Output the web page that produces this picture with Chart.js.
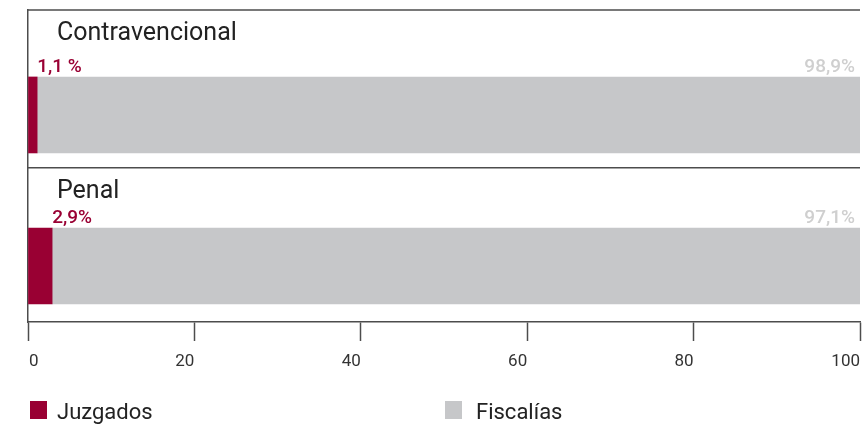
<!DOCTYPE html>
<html>
<head>
<meta charset="utf-8">
<script src="https://cdn.jsdelivr.net/npm/chart.js@4.4.1/dist/chart.umd.min.js"></script>
<style>
  html, body { margin: 0; padding: 0; background: #fff; }
  #wrap { width: 864px; height: 428px; }
</style>
</head>
<body>
<div id="wrap"><canvas id="myChart" width="864" height="428"></canvas></div>
<script>
// datos
var categories = ['Contravencional', 'Penal'];
var juzgados = [1.1, 2.9];
var fiscalias = [98.9, 97.1];
var juzgadosText = ['1,1 %', '2,9%'];
var fiscaliasText = ['98,9%', '97,1%'];
var xTicks = [0, 20, 40, 60, 80, 100];
var seriesNames = ['Juzgados', 'Fiscalías'];

var RED = '#990033';
var GRAY = '#c6c7c9';
var LINE = '#4d4d4d';
var FONT = 'Roboto, "Liberation Sans", sans-serif';

var overlay = {
  id: 'overlay',
  afterDraw: function (chart) {
    var ctx = chart.ctx;
    var area = chart.chartArea;
    var xs = chart.scales.x;
    var ys = chart.scales.y;
    var sep = ys.getPixelForValue(0.35);

    ctx.save();
    // top and separator lines
    ctx.strokeStyle = LINE;
    ctx.lineWidth = 1.5;
    ctx.beginPath();
    ctx.moveTo(area.left, area.top);
    ctx.lineTo(area.right, area.top);
    ctx.moveTo(area.left, sep);
    ctx.lineTo(area.right, sep);
    ctx.stroke();

    // category titles + value labels
    var bandTops = [area.top, sep];
    var meta0 = chart.getDatasetMeta(0);
    var meta1 = chart.getDatasetMeta(1);
    categories.forEach(function (cat, i) {
      ctx.fillStyle = '#222';
      ctx.font = '25px ' + FONT;
      ctx.textAlign = 'left';
      ctx.textBaseline = 'alphabetic';
      ctx.fillText(cat, 57, bandTops[i] + 30);

      var bar = meta0.data[i];
      var barTop = bar.y - bar.height / 2;
      ctx.font = '500 19px ' + FONT;
      ctx.fillStyle = RED;
      ctx.fillText(juzgadosText[i], xs.getPixelForValue(juzgados[i]), barTop - 5);

      var bar2 = meta1.data[i];
      ctx.fillStyle = '#cfcfcf';
      ctx.textAlign = 'right';
      ctx.fillText(fiscaliasText[i], bar2.x - 5, barTop - 5);
    });

    // x tick labels
    ctx.font = '17px ' + FONT;
    ctx.fillStyle = '#333';
    ctx.textBaseline = 'middle';
    xTicks.forEach(function (t, i) {
      var px = xs.getPixelForValue(t);
      ctx.textAlign = i === 0 ? 'left' : 'right';
      ctx.fillText(String(t), i === 0 ? px + 1 : px, 362);
    });

    // legend
    var legX = [30, 445];
    ctx.font = '22px ' + FONT;
    ctx.textBaseline = 'alphabetic';
    ctx.textAlign = 'left';
    chart.data.datasets.forEach(function (ds, i) {
      ctx.fillStyle = ds.backgroundColor;
      ctx.fillRect(legX[i], 401, 17, 18);
      ctx.fillStyle = '#222';
      ctx.fillText(ds.label, legX[i] + 27 + i * 4, 419);
    });
    ctx.restore();
  }
};

var ctx = document.getElementById('myChart');

var myChart = new Chart(ctx, {
  type: 'bar',
  data: {
    datasets: [
      {
        label: seriesNames[0],
        backgroundColor: RED,
        data: juzgados.map(function (v, i) { return { x: v, y: i }; }),
        barThickness: 76
      },
      {
        label: seriesNames[1],
        backgroundColor: GRAY,
        data: fiscalias.map(function (v, i) { return { x: v, y: i }; }),
        barThickness: 76
      }
    ]
  },
  options: {
    indexAxis: 'y',
    responsive: false,
    animation: false,
    layout: { padding: { left: 28, right: 4, top: 10, bottom: 0 } },
    plugins: {
      legend: { display: false },
      tooltip: { enabled: false }
    },
    scales: {
      x: {
        type: 'linear',
        stacked: true,
        min: 0,
        max: 100,
        offset: false,
        afterBuildTicks: function (s) { s.ticks = xTicks.map(function (v) { return { value: v }; }); },
        afterFit: function (s) { s.height = 106; },
        ticks: { display: false },
        grid: {
          offset: false,
          drawOnChartArea: false,
          drawTicks: true,
          tickLength: 19,
          tickColor: LINE,
          tickWidth: 1.5,
          color: LINE
        },
        border: { display: true, color: LINE, width: 1.5 }
      },
      y: {
        type: 'linear',
        stacked: true,
        reverse: true,
        offset: false,
        min: -0.695,
        max: 1.371,
        afterFit: function (s) { s.width = 0; },
        ticks: { display: false },
        grid: { display: false, offset: false },
        border: { display: true, color: LINE, width: 1.5 }
      }
    }
  },
  plugins: [overlay]
});
</script>
</body>
</html>
